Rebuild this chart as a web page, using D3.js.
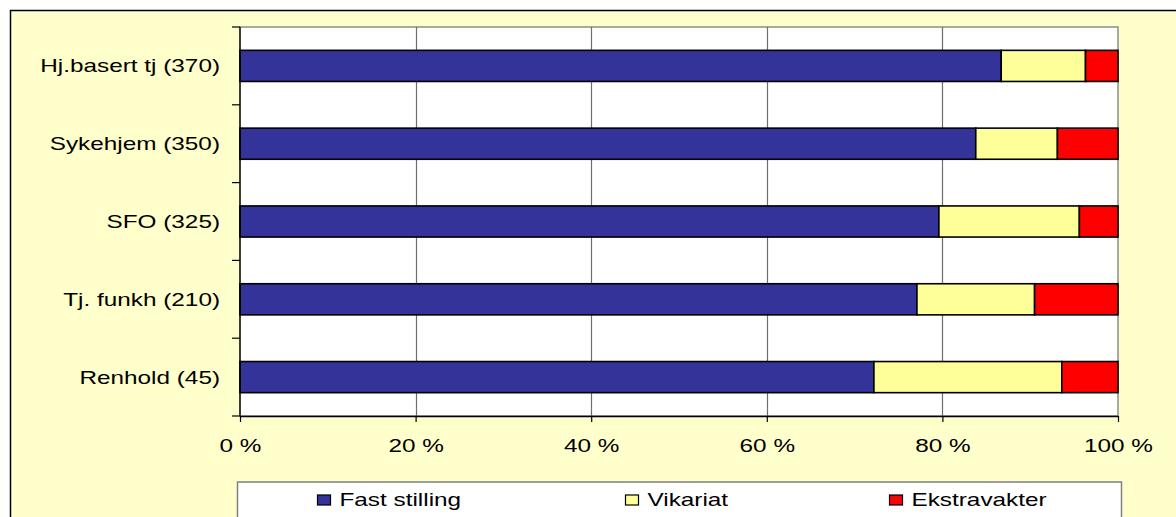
<!DOCTYPE html>
<html>
<head>
<meta charset="utf-8">
<script src="https://cdn.jsdelivr.net/npm/d3@7"></script>
<style>
  body { margin: 0; background: #fff; }
  text { font-family: "Liberation Sans", Arial, sans-serif; fill: #000; }
</style>
</head>
<body>
<div id="chart"></div>
<script>
// data (percent of each group)
const categories = ["Hj.basert tj (370)", "Sykehjem (350)", "SFO (325)", "Tj. funkh (210)", "Renhold (45)"];
const seriesNames = ["Fast stilling", "Vikariat", "Ekstravakter"];
const fastStilling = [86.7, 83.8, 79.6, 77.1, 72.2];
const vikariat = [9.6, 9.3, 16.0, 13.4, 21.4];
const ekstravakter = [3.7, 6.9, 4.4, 9.5, 6.4];
const xTicks = [0, 20, 40, 60, 80, 100];

const colors = ["#333399", "#FFFF99", "#FF0000"];
const W = 1176, H = 517;
const plot = { left: 240, right: 1118, top: 27, bottom: 416 };
const stretch = 1.28;   // the original text is drawn wide
const fontSize = 19;

const svg = d3.select("#chart").append("svg")
    .attr("width", W)
    .attr("height", H);

// outer chart area
svg.append("rect")
    .attr("x", 10.5).attr("y", 10.5)
    .attr("width", W + 20).attr("height", H + 20)
    .attr("fill", "#FFFFCC")
    .attr("stroke", "#000")
    .attr("stroke-width", 1.5);

const x = d3.scaleLinear().domain([0, 100]).range([plot.left, plot.right]);
const y = d3.scaleBand().domain(categories)
    .range([plot.top, plot.bottom])
    .paddingInner(0.6).paddingOuter(0.3);

// plot background
svg.append("rect")
    .attr("x", plot.left).attr("y", plot.top)
    .attr("width", plot.right - plot.left)
    .attr("height", plot.bottom - plot.top)
    .attr("fill", "#fff")
    .attr("stroke", "#8c8c8c")
    .attr("stroke-width", 1.5);

// vertical gridlines
svg.append("g")
    .selectAll("line")
    .data(xTicks.slice(1, -1))
    .enter().append("line")
    .attr("x1", d => Math.round(x(d)) + 0.5).attr("x2", d => Math.round(x(d)) + 0.5)
    .attr("y1", plot.top).attr("y2", plot.bottom)
    .attr("stroke", "#6e6e6e")
    .attr("stroke-width", 1.2);

// stacked bars
const rows = categories.map((c, i) => ({
    cat: c, "Fast stilling": fastStilling[i], "Vikariat": vikariat[i], "Ekstravakter": ekstravakter[i]
}));
const stacked = d3.stack().keys(seriesNames)(rows);

svg.append("g")
    .selectAll("g")
    .data(stacked)
    .enter().append("g")
    .attr("fill", (d, i) => colors[i])
    .selectAll("rect")
    .data(d => d)
    .enter().append("rect")
    .attr("x", d => x(d[0]))
    .attr("y", d => y(d.data.cat))
    .attr("width", d => x(d[1]) - x(d[0]))
    .attr("height", y.bandwidth())
    .attr("stroke", "#000")
    .attr("stroke-width", 1.6);

// left axis: line, ticks at band boundaries, labels
const left = svg.append("g");
left.append("line")
    .attr("x1", plot.left).attr("x2", plot.left)
    .attr("y1", plot.top).attr("y2", plot.bottom)
    .attr("stroke", "#000").attr("stroke-width", 1.3);
left.selectAll(".tick")
    .data(d3.range(categories.length + 1))
    .enter().append("line")
    .attr("x1", plot.left - 8).attr("x2", plot.left)
    .attr("y1", i => plot.top + i * y.step() * (plot.bottom - plot.top) / (y.step() * categories.length))
    .attr("y2", i => plot.top + i * y.step() * (plot.bottom - plot.top) / (y.step() * categories.length))
    .attr("stroke", "#000").attr("stroke-width", 1.2);
left.selectAll("text")
    .data(categories)
    .enter().append("text")
    .attr("transform", d => "translate(" + (plot.left - 20) + "," + (y(d) + y.bandwidth() / 2 + 6.5) + ") scale(" + stretch + ",1)")
    .attr("text-anchor", "end")
    .style("font-size", fontSize + "px")
    .text(d => d);

// bottom axis
const xAxis = svg.append("g")
    .attr("transform", "translate(0," + plot.bottom + ")")
    .call(d3.axisBottom(x).tickValues(xTicks).tickFormat(d => d + " %").tickSize(6).tickSizeOuter(0));
xAxis.select(".domain").attr("stroke", "#000").attr("stroke-width", 1.3);
xAxis.selectAll(".tick line").attr("stroke", "#000").attr("stroke-width", 1.2);
xAxis.selectAll(".tick text")
    .attr("y", 0).attr("dy", 0)
    .attr("transform", "translate(0,36) scale(" + stretch + ",1)")
    .attr("fill", "#000")
    .style("font-size", fontSize + "px")
    .style("font-family", "'Liberation Sans', Arial, sans-serif");

// legend
const legendOffsets = [80, 388, 652];
const legend = svg.append("g").attr("transform", "translate(237.5,482)");
legend.append("rect")
    .attr("width", 884).attr("height", 60)
    .attr("fill", "#fff")
    .attr("stroke", "#808080")
    .attr("stroke-width", 1.5);
const item = legend.selectAll(".item")
    .data(seriesNames)
    .enter().append("g")
    .attr("transform", (d, i) => "translate(" + legendOffsets[i] + ",0)");
item.append("rect")
    .attr("x", 0).attr("y", 13)
    .attr("width", 13).attr("height", 10)
    .attr("fill", (d, i) => colors[i])
    .attr("stroke", "#000").attr("stroke-width", 1.2);
item.append("text")
    .attr("transform", "translate(22,23.5) scale(" + stretch + ",1)")
    .style("font-size", fontSize + "px")
    .text(d => d);
</script>
</body>
</html>
